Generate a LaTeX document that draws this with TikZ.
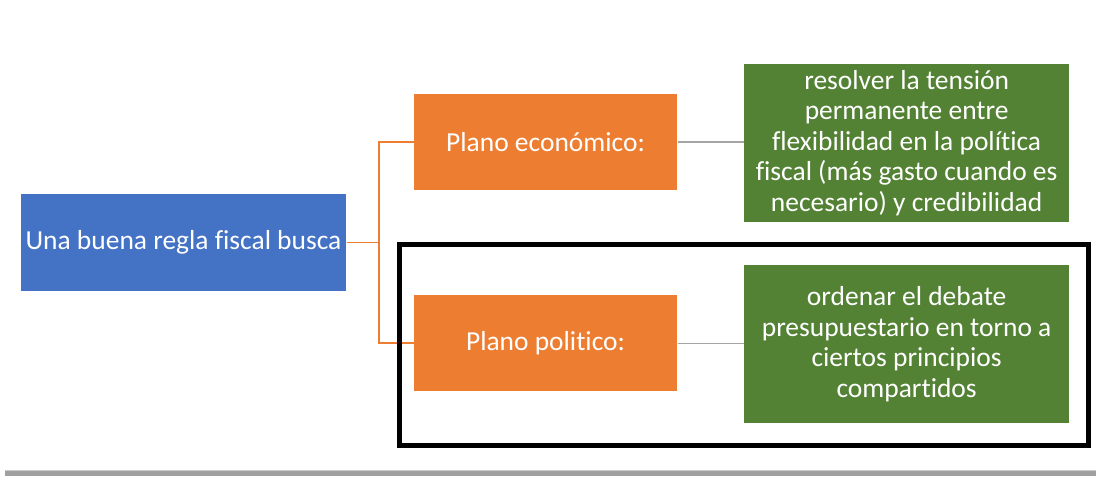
\documentclass[tikz,border=0pt]{standalone}
\usepackage{fontspec}
\setmainfont{Carlito}[Ligatures=NoCommon]
\usetikzlibrary{positioning}

\definecolor{rootblue}{HTML}{4472C4}
\definecolor{planorange}{HTML}{ED7D31}
\definecolor{goalgreen}{HTML}{548235}
\definecolor{linkgray}{HTML}{A5A5A5}
\definecolor{bargray}{HTML}{A0A0A0}

\begin{document}
\begin{tikzpicture}[x=0.75pt,y=-0.75pt,
                    every node/.style={font=\fontsize{20.6}{22.9}\selectfont,
                      text=white,inner sep=0pt,align=center},
                    thick]
	\tikzstyle{rootbox}=[fill=rootblue,minimum width=243.75pt,minimum height=72.75pt]
	\tikzstyle{planbox}=[fill=planorange,minimum width=197.25pt,minimum height=72pt]
	\tikzstyle{goalbox}=[fill=goalgreen,minimum width=243.75pt,minimum height=118.5pt]
	\tikzstyle{branch}=[draw=planorange,line width=1.1pt]
	\tikzstyle{link}=[draw=linkgray,line width=0.8pt]

	\useasboundingbox (0,0) rectangle (1096,476);

	\node[rootbox] (root) at (183.5,242.5) {Una buena regla fiscal busca};
	\node[planbox] (eco) [right=50.25pt of root,yshift=75.4pt] {Plano económico:};
	\node[planbox] (pol) [right=50.25pt of root,yshift=-75.4pt] {Plano politico:};
	\node[goalbox] (ecogoal) [right=49.5pt of eco,yshift=-0.75pt]
		{resolver la tensión\\ permanente entre\\ flexibilidad en la política\\
		 fiscal (más gasto cuando es\\ necesario) y credibilidad};
	\node[goalbox] (polgoal) [right=49.5pt of pol,yshift=-0.75pt]
		{ordenar el debate\\ presupuestario en torno a\\ ciertos principios\\ compartidos};

	\coordinate (fork) at (379,242.5);
	\path[branch] (root) -- (fork) |- (eco.west)
	              (fork) |- (pol.west);
	\path[link] (eco) -- (eco -| ecogoal.west)
	            (pol) -- (pol -| polgoal.west);

	% frame round the political plane
	\draw[line width=3.75pt] (399.5,244.5) rectangle (1088.5,445.5);

	% bar at the foot
	\fill[bargray] (5,470) rectangle (1096,476);
	\draw[gray!40,line width=0.75pt] (5,470.5) -- (1096,470.5);
\end{tikzpicture}
\end{document}
